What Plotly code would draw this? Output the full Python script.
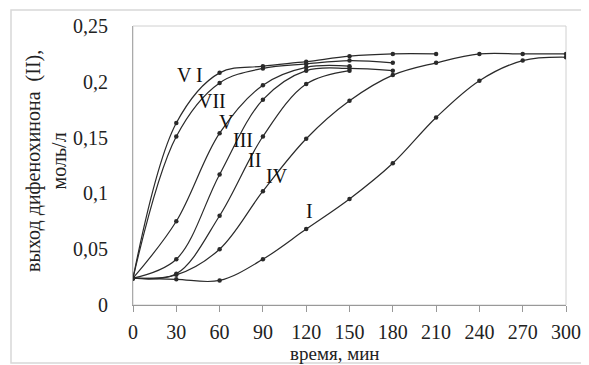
import plotly.graph_objects as go

x_full = [0, 30, 60, 90, 120, 150, 180, 210, 240, 270, 300]

series_names = ["I", "II", "III", "IV", "V", "V I", "VII"]
y_I = [0.024, 0.023, 0.022, 0.041, 0.068, 0.095, 0.127, 0.168, 0.201, 0.219, 0.222]
y_II = [0.024, 0.028, 0.080, 0.151, 0.198, 0.210]
y_III = [0.024, 0.041, 0.117, 0.184, 0.210, 0.212, 0.210]
y_IV = [0.024, 0.027, 0.050, 0.102, 0.149, 0.183, 0.206, 0.217, 0.225, 0.225, 0.225]
y_V = [0.024, 0.075, 0.154, 0.197, 0.213, 0.214]
y_VI = [0.024, 0.163, 0.208, 0.214, 0.218, 0.223, 0.225, 0.225]
y_VII = [0.024, 0.151, 0.199, 0.212, 0.216, 0.219, 0.217]
series_values = [y_I, y_II, y_III, y_IV, y_V, y_VI, y_VII]

# curve label anchor positions (data coordinates)
label_x = [122, 84.5, 76, 100, 64.5, 39.5, 55]
label_y = [0.084, 0.130, 0.148, 0.116, 0.164, 0.206, 0.183]

x_ticks = [0, 30, 60, 90, 120, 150, 180, 210, 240, 270, 300]
y_ticks = [0, 0.05, 0.1, 0.15, 0.2, 0.25]
y_tick_text = ["0", "0,05", "0,1", "0,15", "0,2", "0,25"]

FONT = "Liberation Serif"
LC = "#2a2a2a"

OFF = 8  # default page body margin
W, H = 589 - OFF, 365 - OFF
L, R, T, B = 133 - OFF, 23, 26 - OFF, 60
pw = W - L - R
ph = H - T - B

def px_to_paper_x(px):
    return (px - OFF - L) / pw

def px_to_paper_y(py):
    return (H - B - (py - OFF)) / ph

fig = go.Figure()
for name, ys in zip(series_names, series_values):
    fig.add_trace(go.Scatter(
        x=x_full[:len(ys)], y=ys, mode="lines+markers", name=name,
        line=dict(color=LC, width=1.2, shape="spline", smoothing=1.0),
        marker=dict(size=4.5, color=LC),
        showlegend=False, hoverinfo="skip"))

for name, lx, ly in zip(series_names, label_x, label_y):
    fig.add_annotation(x=lx, y=ly, xref="x", yref="y", text=name,
                       showarrow=False, xanchor="center", yanchor="middle",
                       font=dict(family=FONT, size=20, color="#111"))

fig.add_annotation(x=px_to_paper_x(46), y=px_to_paper_y(161), xref="paper", yref="paper",
                   text="выход дифенохинона  (II),<br>моль/л", textangle=-90, showarrow=False,
                   xanchor="center", yanchor="middle",
                   font=dict(family=FONT, size=20, color="#222"), align="center")
fig.add_annotation(x=px_to_paper_x(335), y=px_to_paper_y(353), xref="paper", yref="paper",
                   text="время, мин", showarrow=False, xanchor="center", yanchor="middle",
                   font=dict(family=FONT, size=19, color="#222"))

fig.update_layout(
    width=W, height=H,
    margin=dict(l=L, r=R, t=T, b=B, autoexpand=False),
    paper_bgcolor="white", plot_bgcolor="white",
    font=dict(family=FONT, size=20, color="#222"),
)

fig.add_shape(type="rect", xref="paper", yref="paper", x0=0, x1=1, y0=0, y1=1,
              line=dict(color="#d0d0d0", width=1), layer="below")
fig.add_shape(type="rect", xref="paper", yref="paper",
              x0=px_to_paper_x(11), x1=px_to_paper_x(600),
              y0=px_to_paper_y(363), y1=px_to_paper_y(10),
              line=dict(color="#d8d8d8", width=1.5), layer="below")

fig.update_xaxes(range=[0, 300], tickvals=x_ticks, ticks="outside", ticklen=6,
                 tickcolor="#999", showline=True, linecolor="#999", linewidth=1,
                 showgrid=False, zeroline=False, automargin=False, ticklabelstandoff=3,
                 tickfont=dict(family=FONT, size=20, color="#222"))
fig.update_yaxes(range=[0, 0.25], tickvals=y_ticks, ticktext=y_tick_text, ticks="",
                 showline=True, linecolor="#aaa", linewidth=1, ticklabelstandoff=20,
                 showgrid=False, zeroline=False, automargin=False,
                 tickfont=dict(family=FONT, size=20, color="#222"))

fig.write_html("out.html")
